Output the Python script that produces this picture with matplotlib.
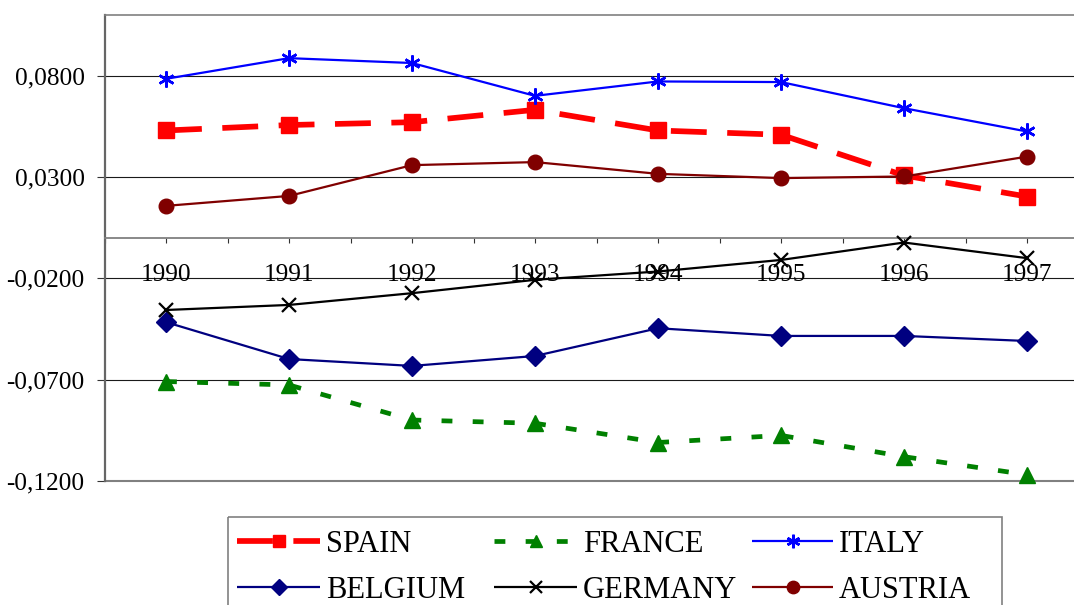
import matplotlib
matplotlib.use("Agg")
import matplotlib.pyplot as plt
from matplotlib.patches import Rectangle
from matplotlib.ticker import FixedLocator, FuncFormatter

plt.rcParams['font.family'] = 'Liberation Serif'

# yearly values per country
years = ['1990', '1991', '1992', '1993', '1994', '1995', '1996', '1997']
spain = [0.0530, 0.0557, 0.0571, 0.0632, 0.0530, 0.0509, 0.0308, 0.0204]
france = [-0.0709, -0.0726, -0.0899, -0.0915, -0.1010, -0.0975, -0.1080, -0.1169]
italy = [0.0785, 0.0887, 0.0863, 0.0701, 0.0772, 0.0769, 0.0640, 0.0525]
belgium = [-0.0416, -0.0598, -0.0632, -0.0583, -0.0446, -0.0484, -0.0484, -0.0509]
germany = [-0.0356, -0.0331, -0.0273, -0.0207, -0.0166, -0.0109, -0.0023, -0.0100]
austria = [0.0158, 0.0207, 0.0359, 0.0374, 0.0316, 0.0295, 0.0303, 0.0401]

yticks = [-0.12, -0.07, -0.02, 0.03, 0.08]

# line style for every series: colour, width, dashes, marker, marker size, edge width
styles = [
    ('SPAIN', spain, '#FF0000', 4.1, (6.3, 3.6), 's', 11.0, 1.0),
    ('FRANCE', france, '#008000', 3.4, (2.3, 4.3), '^', 11.0, 1.0),
    ('ITALY', italy, '#0000FF', 1.6, None, (6, 2, 0), 11.5, 1.8),
    ('BELGIUM', belgium, '#000080', 1.6, None, 'D', 9.8, 1.0),
    ('GERMANY', germany, '#000000', 1.6, None, 'x', 9.8, 1.6),
    ('AUSTRIA', austria, '#800000', 1.6, None, 'o', 10.5, 1.0),
]

W, H = 1074, 605
fig = plt.figure(figsize=(W / 100, H / 100), dpi=100)
left, right, top, bottom = 104.5, 1088.5, 15, 481
ax = fig.add_axes([left / W, 1 - bottom / H, (right - left) / W, (bottom - top) / H])

x = list(range(len(years)))
for name, vals, col, lw, dash, mk, ms, mew in styles:
    line, = ax.plot(x, vals, color=col, lw=lw, marker=mk, ms=ms,
                    mfc=col, mec=col, mew=mew, clip_on=False, zorder=3)
    if dash:
        line.set_dashes(dash)
        line.set_dash_capstyle('butt')

ax.set_xlim(-0.5, 7.5)
ax.set_ylim(-0.12, 0.11)

# gridlines and plot area border
for v in yticks[1:]:
    ax.axhline(v, color='#1a1a1a', lw=0.8, zorder=1)
ax.axhline(-0.12, color='#808080', lw=1.5, zorder=2, clip_on=False)

ax.spines['top'].set_color('#808080')
ax.spines['top'].set_linewidth(1.2)
ax.spines['right'].set_visible(False)
ax.spines['left'].set_color('#666666')
ax.spines['left'].set_linewidth(1.6)
ax.spines['bottom'].set_position(('data', 0))
ax.spines['bottom'].set_color('#808080')
ax.spines['bottom'].set_linewidth(1.3)

ax.yaxis.set_major_locator(FixedLocator(yticks))
ax.yaxis.set_major_formatter(FuncFormatter(lambda v, p: f"{v:.4f}".replace('.', ',')))
ax.tick_params(axis='y', direction='out', length=5.8, width=0.8, pad=8.6,
               labelsize=18.2, color='#333333')

ax.set_xticks(x)
ax.set_xticklabels(years)
ax.set_xticks([i + 0.5 for i in range(-1, len(years))], minor=True)
ax.tick_params(axis='x', which='both', direction='out', length=3.6, width=0.8,
               color='#333333')
ax.tick_params(axis='x', which='major', pad=15.0, labelsize=18.2)

# legend drawn on a pixel overlay
lax = fig.add_axes([0, 0, 1, 1], zorder=5)
lax.set_xlim(0, W)
lax.set_ylim(H, 0)
lax.axis('off')
lax.add_patch(Rectangle((228, 517), 774, 120, fill=False, edgecolor='#808080', lw=1.2,
                        clip_on=False))

cols = [(237, 320), (494, 577), (752, 833)]
rows = [541, 587]
for i, (name, vals, col, lw, dash, mk, ms, mew) in enumerate(styles):
    r, c = divmod(i, 3)
    x0, x1 = cols[c]
    y = rows[r]
    seg, = lax.plot([x0, x1], [y, y], color=col, lw=lw, solid_capstyle='butt')
    if dash:
        seg.set_dashes(dash)
        seg.set_dash_capstyle('butt')
    lax.plot([(x0 + x1) / 2], [y], marker=mk, ms=ms * 0.85, mfc=col, mec=col, mew=mew,
             ls='none')
    lax.text(x1 + 6, y + 11, name, fontsize=22, va='baseline', ha='left')

fig.savefig('out.png', dpi=100)
